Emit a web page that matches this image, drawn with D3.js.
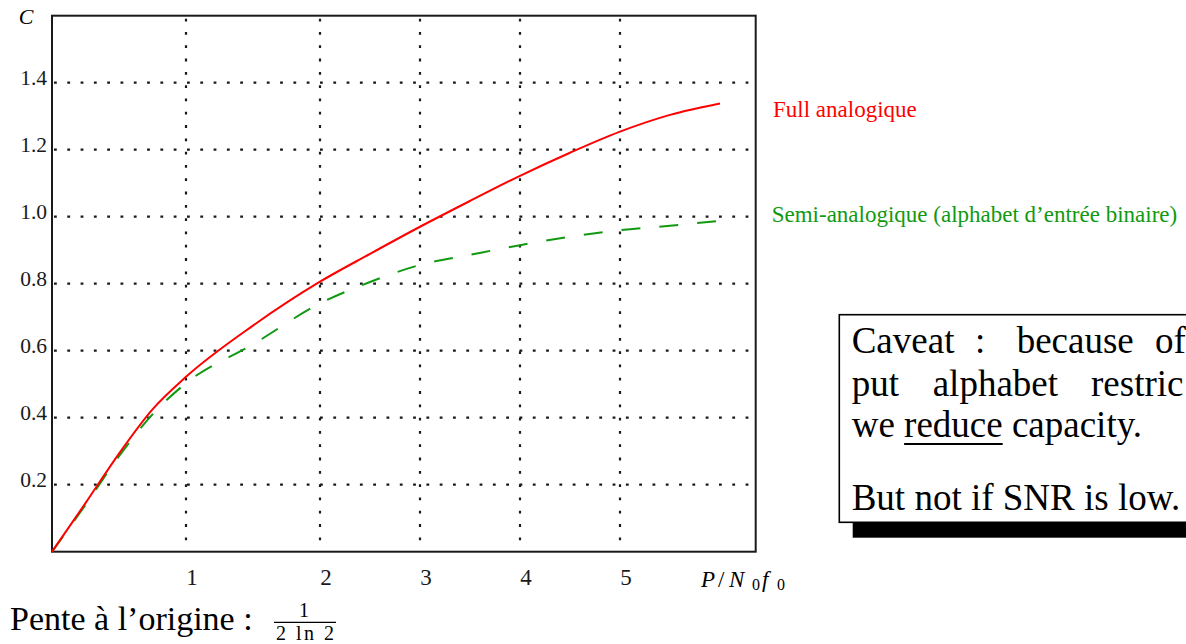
<!DOCTYPE html>
<html>
<head>
<meta charset="utf-8">
<script src="https://cdn.jsdelivr.net/npm/d3@7"></script>
<style>
body { margin: 0; background: #fff; }
svg { display: block; font-family: "Liberation Serif", "Times New Roman", serif; }
</style>
</head>
<body>
<script>
// values (x = P/N0f0, C in bits)
var xValues = [0, 0.25, 0.5, 0.75, 1, 1.5, 2, 2.5, 3, 3.5, 4, 4.5, 5, 5.5, 6];
var fullAnalog = [0, 0.145, 0.293, 0.425, 0.522, 0.675, 0.806, 0.889, 0.970, 1.047, 1.122, 1.191, 1.254, 1.304, 1.338];
var semiAnalog = [0, 0.140, 0.285, 0.410, 0.503, 0.619, 0.741, 0.805, 0.856, 0.886, 0.915, 0.940, 0.960, 0.973, 0.988];
var xTicks = [1, 2, 3, 4, 5];
var yTicks = [0.2, 0.4, 0.6, 0.8, 1.0, 1.2, 1.4];
var seriesNames = ["Full analogique", "Semi-analogique (alphabet d\u2019entr\u00e9e binaire)"];
var caveatLines = [
    ["Caveat", ":", "because", "of"],
    ["put", "alphabet", "restric"]
];

//Settings for canvas
var settings = {
    width: 1186,
    height: 644,
    left: 52,
    top: 15.7,
    right: 755.7,
    bottom: 551.7,
    red: "#ff0000",
    green: "#119911",
    ink: "#1a1a1a"
}

var svg = d3.select("body").append("svg")
    .attr("width", settings.width)
    .attr("height", settings.height)
    .style("background", "#fff");

// the original axis is not uniform: units 0-2 are wider than the rest
var x = d3.scaleLinear()
    .domain([0, 1, 2, 6.357])
    .range([settings.left, 186, 320, settings.right]);

var y = d3.scaleLinear()
    .domain([0, 1.6])
    .range([settings.bottom, settings.top]);

//dotted grid
var grid = svg.append("g")
    .attr("stroke", settings.ink)
    .attr("stroke-width", 2.2)
    .attr("stroke-dasharray", "2.8,10.5");

grid.selectAll("line.h").data(yTicks).enter().append("line")
    .attr("class", "h")
    .attr("x1", settings.left + 2)
    .attr("x2", settings.right - 3)
    .attr("y1", (d) => { return y(d); })
    .attr("y2", (d) => { return y(d); });

grid.selectAll("line.v").data(xTicks).enter().append("line")
    .attr("class", "v")
    .attr("x1", (d) => { return x(d); })
    .attr("x2", (d) => { return x(d); })
    .attr("y1", settings.top + 3)
    .attr("y2", settings.bottom - 10);

//frame
svg.append("rect")
    .attr("x", settings.left)
    .attr("y", settings.top)
    .attr("width", settings.right - settings.left)
    .attr("height", settings.bottom - settings.top)
    .attr("fill", "none")
    .attr("stroke", settings.ink)
    .attr("stroke-width", 2);

//axes, only the labels are kept
var yAxis = svg.append("g")
    .attr("transform", "translate(" + settings.left + ",0)")
    .call(d3.axisLeft(y).tickValues(yTicks).tickSize(0).tickPadding(5).tickFormat(d3.format(".1f")));
yAxis.select(".domain").remove();
yAxis.selectAll("text")
    .attr("dy", "0.08em")
    .style("font-family", "Liberation Serif")
    .style("font-size", "21.5px")
    .attr("fill", settings.ink);

var xAxis = svg.append("g")
    .attr("transform", "translate(0," + settings.bottom + ")")
    .call(d3.axisBottom(x).tickValues(xTicks).tickSize(0).tickFormat(d3.format("d")));
xAxis.select(".domain").remove();
xAxis.selectAll("text")
    .attr("x", 5.5)
    .attr("y", 33.3)
    .attr("dy", 0)
    .style("font-family", "Liberation Serif")
    .style("font-size", "23px")
    .attr("fill", settings.ink);

//axis titles
svg.append("text")
    .attr("x", 26).attr("y", 24)
    .attr("text-anchor", "middle")
    .style("font-style", "italic")
    .style("font-size", "22px")
    .text("C");

var xTitle = svg.append("text")
    .attr("y", 586.7)
    .style("font-size", "23px");
xTitle.append("tspan").attr("x", 701).style("font-style", "italic").text("P");
xTitle.append("tspan").attr("x", 718).text("/");
xTitle.append("tspan").attr("x", 729).style("font-style", "italic").text("N");
xTitle.append("tspan").attr("x", 752).attr("dy", 3).style("font-size", "16px").text("0");
xTitle.append("tspan").attr("x", 762).attr("dy", -3).style("font-style", "italic").text("f");
xTitle.append("tspan").attr("x", 777).attr("dy", 3).style("font-size", "16px").text("0");

//curves
var line = d3.line()
    .x((d) => { return x(d[0]); })
    .y((d) => { return y(d[1]); })
    .curve(d3.curveMonotoneX);

svg.append("path")
    .datum(xValues.map((v, i) => { return [v, semiAnalog[i]]; }))
    .attr("d", line)
    .attr("fill", "none")
    .attr("stroke", settings.green)
    .attr("stroke-width", 2)
    .attr("stroke-dasharray", "19,19");

svg.append("path")
    .datum(xValues.map((v, i) => { return [v, fullAnalog[i]]; }))
    .attr("d", line)
    .attr("fill", "none")
    .attr("stroke", settings.red)
    .attr("stroke-width", 2);

//series labels
svg.append("text")
    .attr("x", 773).attr("y", 116.5)
    .attr("fill", settings.red)
    .style("font-size", "23px")
    .text(seriesNames[0]);

svg.append("text")
    .attr("x", 771.7).attr("y", 222)
    .attr("fill", settings.green)
    .style("font-size", "23px")
    .text(seriesNames[1]);

//caveat box with its shadow
var box = {x: 839.3, y: 314.7, w: 400, h: 207.6};
svg.append("rect")
    .attr("x", box.x + 13.4).attr("y", box.y + 15.4)
    .attr("width", box.w).attr("height", box.h)
    .attr("fill", "#000");
svg.append("rect")
    .attr("x", box.x).attr("y", box.y)
    .attr("width", box.w).attr("height", box.h)
    .attr("fill", "#fff")
    .attr("stroke", "#000")
    .attr("stroke-width", 1.6);

var note = svg.append("g")
    .style("font-size", "37px")
    .attr("fill", "#000");

var wordX = [[851.7, 975, 1016.7, 1155], [851.7, 932.7, 1091]];
var lineY = [353.3, 396];
caveatLines.forEach((words, li) => {
    words.forEach((w, wi) => {
        note.append("text").attr("x", wordX[li][wi]).attr("y", lineY[li]).text(w);
    });
});

var l3 = note.append("text").attr("x", 851.7).attr("y", 436.7).text("we reduce capacity.");
var uStart = l3.node().getSubStringLength(0, 3);
var uLen = l3.node().getSubStringLength(3, 6);
note.append("line")
    .attr("x1", 851.7 + uStart).attr("x2", 851.7 + uStart + uLen)
    .attr("y1", 444).attr("y2", 444)
    .attr("stroke", "#000").attr("stroke-width", 2);

note.append("text").attr("x", 851.7).attr("y", 510).text("But not if SNR is low.");

//slope at the origin
svg.append("text")
    .attr("x", 10).attr("y", 630)
    .style("font-size", "34px")
    .text("Pente \u00e0 l\u2019origine :");

svg.append("text")
    .attr("x", 304).attr("y", 617)
    .attr("text-anchor", "middle")
    .style("font-size", "20px")
    .text("1");
svg.append("line")
    .attr("x1", 274).attr("x2", 336)
    .attr("y1", 622.3).attr("y2", 622.3)
    .attr("stroke", "#000").attr("stroke-width", 1.3);
svg.append("text")
    .attr("x", 276).attr("y", 639.5)
    .attr("textLength", 58)
    .attr("lengthAdjust", "spacing")
    .style("font-size", "20px")
    .text("2 ln 2");
</script>
</body>
</html>
